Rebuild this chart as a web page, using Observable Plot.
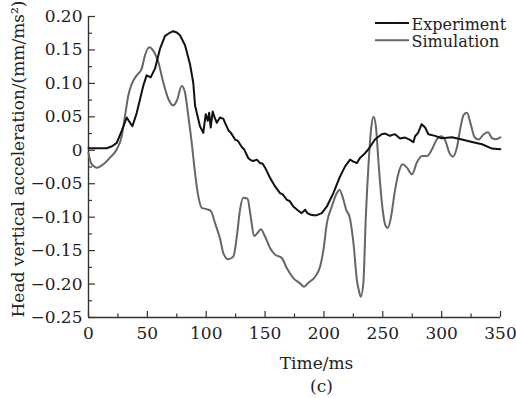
<!DOCTYPE html>
<html>
<head>
<meta charset="utf-8">
<script src="https://cdn.jsdelivr.net/npm/d3@7"></script>
<script src="https://cdn.jsdelivr.net/npm/@observablehq/plot@0.6"></script>
<style>
  html, body { margin: 0; padding: 0; background: #fff; }
  #wrap { position: relative; width: 516px; height: 398px; font-family: "DejaVu Serif", serif; }
  #legend { position: absolute; left: 0; top: 0; }
</style>
</head>
<body>
<div id="wrap"></div>
<script>
// ---- data ----
const seriesNames = ["Experiment", "Simulation"];

const expTime = [0, 8, 15.5, 20, 24, 28.2, 32.5, 35, 37.3, 41, 46.6, 49.4, 52.8, 56.5, 60.8, 65, 68.5, 72, 75, 77.7,
  82, 86.2, 89, 90.5, 94.7, 97.5, 99.6, 101.3, 102.5, 103.8, 105.5, 107, 109, 111.7, 114.6, 116, 118.8, 121, 124.5, 127,
  130.2, 132, 135.8, 138, 140, 143, 145.7, 148, 150, 154.2, 158.5, 162.7, 165, 168.4, 171, 174, 178, 181.1, 184, 186,
  188.2, 191, 194, 198.2, 202.5, 208, 213.7, 218, 222.2, 225, 228, 230.8, 234, 237.8, 243.5, 249.1, 252, 256.2, 258, 260.4,
  264.7, 269, 273.2, 276, 277.4, 280, 283, 286, 288.7, 294.4, 300, 308.8, 317.3, 325.8, 334.3, 342.8, 349.9];
const expValue = [0.003, 0.003, 0.003, 0.006, 0.011, 0.029, 0.049, 0.042, 0.036, 0.056, 0.097, 0.112, 0.109, 0.122, 0.152, 0.171, 0.175, 0.178, 0.176, 0.172,
  0.157, 0.129, 0.101, 0.067, 0.036, 0.026, 0.054, 0.044, 0.056, 0.034, 0.058, 0.050, 0.041, 0.049, 0.047, 0.041, 0.030, 0.026, 0.016, 0.014,
  0.005, 0.002, -0.012, -0.015, -0.016, -0.014, -0.019, -0.020, -0.026, -0.041, -0.054, -0.064, -0.066, -0.074, -0.076, -0.084, -0.090, -0.094, -0.089, -0.094,
  -0.096, -0.097, -0.097, -0.094, -0.084, -0.064, -0.039, -0.024, -0.014, -0.017, -0.019, -0.011, -0.006, 0.0015, 0.0165, 0.024, 0.025, 0.0215, 0.023, 0.024,
  0.0175, 0.019, 0.0155, 0.012, 0.021, 0.026, 0.039, 0.034, 0.024, 0.0215, 0.018, 0.0195, 0.016, 0.0125, 0.009, 0.0025, 0.0015];

const simTime = [0, 2.1, 4.5, 7, 10, 12.6, 18.3, 24, 28.2, 31, 33.8, 36.7, 41, 45.2, 48, 51.7, 55, 59.3, 63.6, 67.8,
  72, 75, 79.2, 82, 84.8, 87.7, 90.5, 93.3, 96.2, 100.4, 104, 107.5, 111.7, 114.6, 118.8, 123, 126, 128.7, 131.5, 135,
  137.8, 140.6, 143.4, 146.3, 150, 154.2, 158.5, 164.2, 168.4, 174, 179.7, 183.1, 186.8, 192.5, 196.7, 199.6, 202.5, 206.7, 211, 213.2,
  216.1, 218.9, 221.7, 225.1, 228, 230, 231.3, 233.5, 235.6, 237.8, 240.1, 242.1, 244.1, 246.4, 249.2, 252, 254.3, 257.1, 260, 263.4,
  266.8, 270.5, 274.8, 279, 283.3, 287.5, 291.8, 296, 299.7, 303.1, 306.5, 309.6, 313, 315.8, 318.7, 321.5, 324.4, 328, 331.4, 335.7,
  339.4, 342.8, 346.2, 349.9];
const simValue = [-0.004, -0.019, -0.024, -0.026, -0.024, -0.021, -0.011, 0.0015, 0.021, 0.051, 0.082, 0.099, 0.112, 0.122, 0.142, 0.154, 0.149, 0.132, 0.101, 0.077,
  0.067, 0.074, 0.096, 0.086, 0.051, 0.011, -0.034, -0.069, -0.086, -0.088, -0.091, -0.109, -0.132, -0.154, -0.163, -0.159, -0.129, -0.089, -0.071, -0.072,
  -0.099, -0.128, -0.124, -0.118, -0.129, -0.146, -0.156, -0.161, -0.176, -0.191, -0.199, -0.204, -0.198, -0.189, -0.174, -0.149, -0.109, -0.084, -0.064, -0.059,
  -0.071, -0.089, -0.099, -0.139, -0.194, -0.212, -0.219, -0.198, -0.099, -0.024, 0.032, 0.050, 0.036, -0.019, -0.078, -0.111, -0.116, -0.099, -0.064, -0.034,
  -0.021, -0.026, -0.036, -0.018, -0.0085, -0.0085, 0.0015, 0.0165, 0.021, 0.0145, -0.0035, -0.0095, 0.0045, 0.032, 0.053, 0.056, 0.041, 0.0195, 0.016, 0.024,
  0.027, 0.018, 0.0165, 0.0195];

const xTicks = [0, 50, 100, 150, 200, 250, 300, 350];
const xTickLabels = ["0", "50", "100", "150", "200", "250", "300", "350"];
const xMinorTicks = [25, 75, 125, 175, 225, 275, 325];
const yTicks = [0.20, 0.15, 0.10, 0.05, 0, -0.05, -0.10, -0.15, -0.20, -0.25];
const yTickLabels = ["0.20", "0.15", "0.10", "0.05", "0", "\u22120.05", "\u22120.10", "\u22120.15", "\u22120.20", "\u22120.25"];
const yMinorTicks = [0.175, 0.125, 0.075, 0.025, -0.025, -0.075, -0.125, -0.175, -0.225];
const xLabel = "Time/ms";
const yLabel = "Head vertical acceleration/(mm/ms\u00B2)";
const panelLabel = "(c)";

// ---- build ----
const expData = expTime.map((t, i) => ({t, v: expValue[i]}));
const simData = simTime.map((t, i) => ({t, v: simValue[i]}));
const colors = {Experiment: "#111111", Simulation: "#666666"};

const chart = Plot.plot({
  width: 516,
  height: 398,
  marginLeft: 88,
  marginRight: 16,
  marginTop: 16,
  marginBottom: 81,
  style: {fontFamily: "DejaVu Serif", fontSize: "17px", color: "#222", background: "#fff", overflow: "visible"},
  x: {domain: [0, 350], axis: null},
  y: {domain: [-0.25, 0.2], axis: null},
  marks: [
    // axis lines
    Plot.ruleX([0], {stroke: "#333", strokeWidth: 1.4}),
    Plot.ruleY([-0.25], {stroke: "#333", strokeWidth: 1.4}),
    // x ticks (inward)
    Plot.axisX({ticks: xTicks, tickSize: 6, dy: -6, fill: "none", stroke: "#333", strokeWidth: 1.2, label: null}),
    Plot.axisX({ticks: xMinorTicks, tickSize: 3.5, dy: -3.5, fill: "none", stroke: "#333", strokeWidth: 1.2, label: null}),
    Plot.axisX({ticks: xTicks, tickSize: 0, tickPadding: 9, fontSize: 17, fill: "#222",
      tickFormat: d => xTickLabels[xTicks.indexOf(d)], label: null}),
    // y ticks (inward)
    Plot.axisY({ticks: yTicks, tickSize: 7, dx: 7, fill: "none", stroke: "#333", strokeWidth: 1.2, label: null}),
    Plot.axisY({ticks: yMinorTicks, tickSize: 4, dx: 4, fill: "none", stroke: "#333", strokeWidth: 1.2, label: null}),
    Plot.axisY({ticks: yTicks, tickSize: 0, tickPadding: 6, fontSize: 17, fill: "#222",
      tickFormat: d => yTickLabels[yTicks.findIndex(v => Math.abs(v - d) < 1e-9)], label: null}),
    // axis titles
    Plot.text([xLabel], {frameAnchor: "bottom", textAnchor: "middle", lineAnchor: "middle", dx: 22, dy: 46, fontSize: 17, fill: "#222"}),
    Plot.text([panelLabel], {frameAnchor: "bottom", textAnchor: "middle", lineAnchor: "middle", dx: 27, dy: 69, fontSize: 17, fill: "#222"}),
    Plot.text([yLabel], {frameAnchor: "left", textAnchor: "middle", lineAnchor: "middle", rotate: -90, dx: -70, dy: -8, fontSize: 17, fill: "#222"}),
    // series
    Plot.line(simData, {x: "t", y: "v", stroke: colors.Simulation, strokeWidth: 2, curve: "monotone-x"}),
    Plot.line(expData, {x: "t", y: "v", stroke: colors.Experiment, strokeWidth: 2, curve: "linear"})
  ]
});

const wrap = document.getElementById("wrap");
wrap.appendChild(chart);

// legend (overlay, top-right inside the plot)
const ns = "http://www.w3.org/2000/svg";
const leg = document.createElementNS(ns, "svg");
leg.setAttribute("id", "legend");
leg.setAttribute("width", "516");
leg.setAttribute("height", "60");
const legRows = [
  {name: seriesNames[0], lineY: 23, base: 29.7},
  {name: seriesNames[1], lineY: 40.3, base: 47.3}
];
legRows.forEach(r => {
  const l = document.createElementNS(ns, "line");
  l.setAttribute("x1", 375); l.setAttribute("x2", 409);
  l.setAttribute("y1", r.lineY); l.setAttribute("y2", r.lineY);
  l.setAttribute("stroke", colors[r.name]); l.setAttribute("stroke-width", 2);
  leg.appendChild(l);
  const t = document.createElementNS(ns, "text");
  t.setAttribute("x", 411.5); t.setAttribute("y", r.base);
  t.setAttribute("font-family", "DejaVu Serif");
  t.setAttribute("font-size", "16");
  t.setAttribute("fill", "#222");
  t.textContent = r.name;
  leg.appendChild(t);
});
wrap.appendChild(leg);
</script>
</body>
</html>
